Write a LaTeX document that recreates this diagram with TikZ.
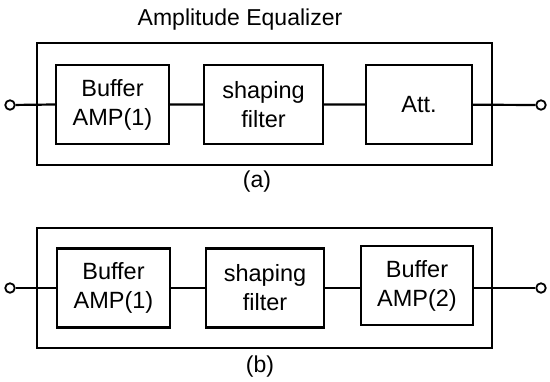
\documentclass[tikz,border=0pt]{standalone}
\usepackage{fontspec}
\setmainfont{Liberation Sans}
\usetikzlibrary{calc}
\usetikzlibrary{fit,positioning}

\tikzset{
  blk/.style={draw,line width=2.2pt,minimum height=79pt,inner sep=0pt,align=center,
    font=\fontsize{23.5}{29}\selectfont},
  frame/.style={draw,line width=2.2pt,inner sep=0pt},
  term/.style={draw,circle,line width=1.8pt,minimum size=9.5pt,inner sep=0pt,fill=white},
  wire/.style={line width=2.2pt},
  lbl/.style={font=\fontsize{23}{27}\selectfont}
}

\begin{document}
\begin{tikzpicture}[x=1pt,y=-1pt]
        \useasboundingbox (0,0) rectangle (550,381);
        % (a) equalizer with attenuator
        \coordinate (fa1) at (37,43);
        \coordinate (fa2) at (492,165);
        \node[frame,fit=(fa1)(fa2)] (FA) {};
        \node[lbl] (title) at (240,20) {Amplitude Equalizer};
        \node[blk,minimum width=113pt] (bufA) at (112.5,104.5) {Buffer\\AMP(1)};
        \node[blk,minimum width=119pt] (shpA) at (263.5,104.5) {shaping\\filter};
        \node[blk,minimum width=106pt] (att) at (419,104.5) {Att.};
        \node[term] (inA) at (10,105) {};
        \node[term] (outA) at (541,105) {};
        \draw[wire]
        (inA) -- (bufA.west)
        (bufA) -- (shpA)
        (shpA) -- (att)
        (att) -- (outA);
        \node[lbl] (capA) at (257,182) {(a)};

        % (b) equalizer with second buffer
        \coordinate (fb1) at (37,228);
        \coordinate (fb2) at (492,348);
        \node[frame,fit=(fb1)(fb2)] (FB) {};
        \node[blk,minimum width=113pt] (bufB) at (113.5,288) {Buffer\\AMP(1)};
        \node[blk,minimum width=118pt] (shpB) at (265,288) {shaping\\filter};
        \node[blk,minimum width=112pt] (bufC) at (417,285.5) {Buffer\\AMP(2)};
        \node[term] (inB) at (10,288) {};
        \node[term] (outB) at (541,288) {};
        \draw[wire]
        (inB) -- (bufB.west)
        (bufB) -- (shpB)
        (shpB.east) -- (shpB.east -| bufC.west)
        (outB -| bufC.east) -- (outB);
        \node[lbl] (capB) at (260,367) {(b)};
      \end{tikzpicture}
\end{document}
